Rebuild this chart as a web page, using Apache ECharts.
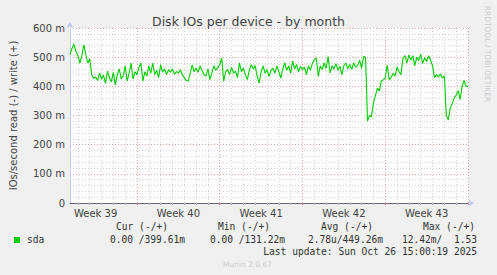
<!DOCTYPE html>
<html>
<head>
<meta charset="utf-8">
<script src="https://cdn.jsdelivr.net/npm/echarts@6/dist/echarts.min.js"></script>
<style>
html,body{margin:0;padding:0;background:#f0f0f0;}
#c{width:497px;height:275px;}
</style>
</head>
<body>
<div id="c"></div>
<script>
// ---- data ----
var title = 'Disk IOs per device - by month';
var yAxisName = 'IOs/second read (-) / write (+)';
var firstWeek = 39;          // week containing the first sample
var startOffset = 8;         // 4-hour periods into week 39 at the first sample
var periodsPerDay = 6;       // 4-hour periods per day
var yTicks = [0, 100, 200, 300, 400, 500, 600];
var seriesName = 'sda';
// write IOs/s (milli) per 4-hour period
var writeValues = [
  510, 530, 545, 520, 505, 480, 505, 542, 510, 480, 494, 440, 428,
  432, 420, 445, 425, 438, 410, 452, 430, 415, 448, 405, 440, 460, 425, 435, 470, 418, 445, 480, 425, 450, 440,
  465, 480, 418, 450, 435, 470, 445, 480, 440, 455, 430, 474, 448, 460, 440, 457, 448, 460, 442, 451, 445, 457, 440, 430, 420, 418, 445, 474, 450, 462, 448, 470, 455, 440, 435, 460, 423, 445, 470, 455, 465, 474,
  497, 418, 450, 457, 440, 465, 445, 452, 430, 480, 450, 462, 440, 423, 455, 474, 460, 470, 435, 411, 450, 470, 445, 457, 434, 455, 462, 445, 470, 450, 428, 460, 480, 455, 470, 445, 487, 460, 475, 450, 468, 458,
  465, 440, 470, 455, 478, 491, 497, 434, 470, 458, 480, 462, 503, 445, 470, 460, 478, 455, 468, 440, 472, 480, 460, 475, 458, 480, 465, 472, 490, 462, 503, 500,
  281, 300, 296, 343, 367, 394, 384, 418, 422, 428, 473, 422, 430, 445, 435, 466, 450, 440, 497, 505, 480, 508, 490, 505, 470, 500, 488, 510, 478, 498, 485, 505, 490, 470, 430, 440, 432, 442, 428, 436, 300, 285, 326, 340, 360, 370, 385, 355, 400, 420, 400, 400
];
var legendHeaders = ['Cur (-/+)', 'Min (-/+)', 'Avg (-/+)', 'Max (-/+)'];
var legendValues = ['0.00 /399.61m', '0.00 /131.22m', '2.78u/449.26m', '12.42m/  1.53'];
var lastUpdate = 'Last update: Sun Oct 26 15:00:19 2025';
var watermark = 'RRDTOOL / TOBI OETIKER';
var footer = 'Munin 2.0.67';

// ---- build ----
var periodsPerWeek = periodsPerDay * 7;
var categories = writeValues.map(function (v, i) { return String(i + startOffset); });
function per(i) { return i + startOffset; }
function isWeek(i) { return per(i) % periodsPerWeek === 0; }
function isDay(i) { return per(i) % periodsPerDay === 0; }
function isWeekMid(i) { return per(i) % periodsPerWeek === periodsPerWeek / 2; }

var chart = echarts.init(document.getElementById('c'), null, {renderer: 'svg'});
var mono = 'DejaVu Sans Mono';
var sans = 'DejaVu Sans';
var graphics = [];
var hx = [116, 218, 321, 423];
var vx = [185, 285, 383, 477];
legendHeaders.forEach(function (h, k) {
  graphics.push({type: 'text', left: hx[k], top: 221, style: {text: h, font: '9.6px "' + mono + '"', fill: '#333'}});
  graphics.push({type: 'text', right: 497 - vx[k], top: 234, style: {text: legendValues[k], font: '9.6px "' + mono + '"', fill: '#333'}});
});
graphics.push({type: 'text', right: 20, top: 246, style: {text: lastUpdate, font: '9.6px "' + mono + '"', fill: '#333'}});
graphics.push({type: 'rect', shape: {x: 14, y: 237, width: 6, height: 6}, style: {fill: '#00cc00'}});
graphics.push({type: 'text', left: 27, top: 234, style: {text: seriesName, font: '9.6px "' + mono + '"', fill: '#333'}});
graphics.push({type: 'text', left: 223, top: 260, style: {text: footer, font: '7.5px "' + sans + '"', fill: '#cccccc'}});
graphics.push({type: 'text', x: 487, y: 54, rotation: -Math.PI / 2,
  style: {text: watermark, font: '7.5px "' + sans + '"', fill: '#cccccc', align: 'center', verticalAlign: 'middle'}});

chart.setOption({
  backgroundColor: '#f0f0f0',
  animation: false,
  title: {text: title, left: 'center', top: 10,
    textStyle: {fontFamily: sans, fontSize: 12.5, fontWeight: 'normal', color: '#444'}},
  grid: {left: 66, right: 29, top: 28, bottom: 72, show: true, backgroundColor: '#ffffff', borderWidth: 0},
  xAxis: [{
    type: 'category', data: categories, boundaryGap: false,
    axisLine: {show: true, symbol: ['none', 'arrow'], symbolSize: [6, 6], symbolOffset: [0, 6], lineStyle: {color: '#c4ccf4', width: 1}},
    axisTick: {show: true, length: 2, interval: function (i) { return isWeek(i); }, lineStyle: {color: '#e08080'}},
    axisLabel: {show: true, interval: function (i) { return isWeekMid(i); }, margin: 5,
      formatter: function (v, i) { return 'Week ' + (firstWeek + Math.floor(per(i) / periodsPerWeek)); },
      fontFamily: sans, fontSize: 10, color: '#444'},
    splitLine: {show: true, interval: function (i) { return isWeek(i); }, lineStyle: {color: '#e8a0a0', type: [1, 2], width: 1}}
  }, {
    type: 'category', data: categories, boundaryGap: false, position: 'bottom',
    axisLine: {show: true, lineStyle: {color: '#666677', width: 1}},
    axisTick: {show: true, length: 2, interval: function (i) { return isDay(i) && !isWeek(i); }, lineStyle: {color: '#bbbbbb'}},
    axisLabel: {show: false},
    splitLine: {show: true, interval: function (i) { return isDay(i) && !isWeek(i); }, lineStyle: {color: '#d4d4d4', type: [1, 2], width: 1}}
  }],
  yAxis: {
    type: 'value', min: yTicks[0], max: yTicks[yTicks.length - 1], interval: 100,
    name: yAxisName, nameLocation: 'middle', nameGap: 52,
    nameTextStyle: {fontFamily: sans, fontSize: 10, color: '#444'},
    axisLine: {show: true, symbol: ['none', 'arrow'], symbolSize: [6, 6], symbolOffset: [0, 6], lineStyle: {color: '#c4ccf4'}},
    axisTick: {show: false},
    axisLabel: {margin: 5, fontFamily: sans, fontSize: 10, color: '#444',
      formatter: function (v) { return v === 0 ? '0' : v + ' m'; }},
    splitLine: {show: true, lineStyle: {color: '#e8a0a0', type: [1, 2]}},
    minorTick: {show: false, splitNumber: 5},
    minorSplitLine: {show: true, lineStyle: {color: '#d4d4d4', type: [1, 2]}}
  },
  series: [{
    name: seriesName, type: 'line', data: writeValues, xAxisIndex: 0,
    showSymbol: false, symbol: 'none',
    lineStyle: {color: '#00cc00', width: 1.1}, z: 5
  }],
  graphic: graphics
});
</script>
</body>
</html>
